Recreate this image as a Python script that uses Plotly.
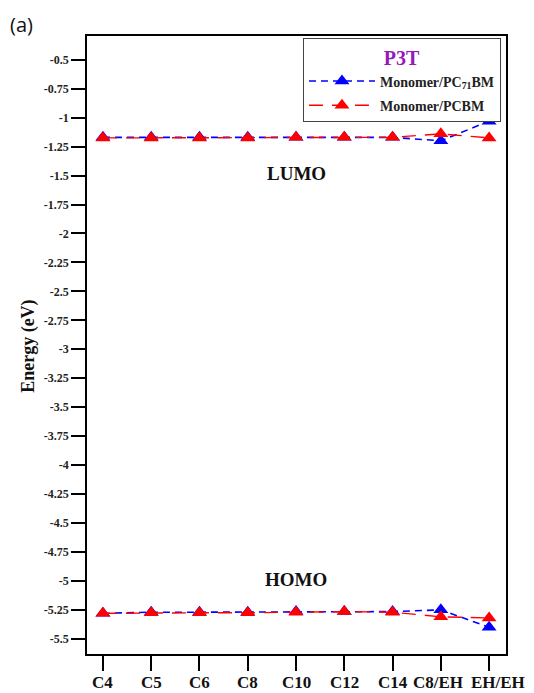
import plotly.graph_objects as go

categories = ["C4", "C5", "C6", "C8", "C10", "C12", "C14", "C8/EH", "EH/EH"]
lumo_pc71bm = [-1.17, -1.17, -1.17, -1.17, -1.17, -1.17, -1.17, -1.20, -1.03]
lumo_pcbm = [-1.175, -1.175, -1.175, -1.175, -1.17, -1.17, -1.17, -1.14, -1.175]
homo_pc71bm = [-5.28, -5.27, -5.27, -5.27, -5.265, -5.265, -5.265, -5.25, -5.40]
homo_pcbm = [-5.28, -5.275, -5.275, -5.275, -5.27, -5.265, -5.27, -5.31, -5.32]
ytick_vals = [-0.5 - 0.25 * i for i in range(21)]
ytick_text = ["%g" % v for v in ytick_vals]

serif = "Liberation Serif"
xs = list(range(len(categories)))

fig = go.Figure()
blue = dict(color="#0000ff", width=1.6, dash="7px,5px")
red = dict(color="#ff0000", width=1.4, dash="14px,9px")
mk_b = dict(symbol="triangle-up", size=13, color="#0000ff")
mk_r = dict(symbol="triangle-up", size=13, color="#ff0000")

fig.add_trace(go.Scatter(x=xs, y=lumo_pc71bm, mode="lines+markers", line=blue, marker=mk_b,
                         name="Monomer/PC<sub>71</sub>BM", legendgroup="b"))
fig.add_trace(go.Scatter(x=xs, y=homo_pc71bm, mode="lines+markers", line=blue, marker=mk_b,
                         name="Monomer/PC<sub>71</sub>BM", legendgroup="b", showlegend=False))
fig.add_trace(go.Scatter(x=xs, y=lumo_pcbm, mode="lines+markers", line=red, marker=mk_r,
                         name="Monomer/PCBM", legendgroup="r"))
fig.add_trace(go.Scatter(x=xs, y=homo_pcbm, mode="lines+markers", line=red, marker=mk_r,
                         name="Monomer/PCBM", legendgroup="r", showlegend=False))

label_font = dict(family=serif, size=17, color="#111", weight="bold")
annotations = []
for i, cat in enumerate(categories):
    shift = 0
    if cat == "C8/EH":
        shift = -3
    elif cat == "EH/EH":
        shift = 9
    annotations.append(dict(text=cat, xref="x", yref="paper", x=i, y=0, yanchor="middle",
                            yshift=-28, xshift=shift, showarrow=False, font=label_font))

annotations += [
    dict(text="Energy (eV)", textangle=-90, xref="paper", yref="paper",
         x=(29 - 87) / 419, y=0.497, xanchor="center", yanchor="middle", showarrow=False,
         font=dict(family=serif, size=18, color="#111", weight="bold")),
    dict(text="LUMO", xref="x", yref="y", x=4, y=-1.48, showarrow=False,
         font=dict(family=serif, size=19, color="#111", weight="bold")),
    dict(text="HOMO", xref="x", yref="y", x=4, y=-4.985, showarrow=False,
         font=dict(family=serif, size=19, color="#111", weight="bold")),
    dict(text="(a)", xref="paper", yref="paper", x=(8 - 87) / 419, y=(654 - 25) / 618,
         xanchor="left", yanchor="middle", showarrow=False,
         font=dict(family="Open Sans", size=20, color="#111")),
]

fig.update_layout(
    width=534, height=693,
    margin=dict(l=87, r=28, t=36, b=39),
    paper_bgcolor="white", plot_bgcolor="white",
    showlegend=True,
    legend=dict(
        x=0.988, y=0.996, xanchor="right", yanchor="top",
        bordercolor="#444", borderwidth=1, bgcolor="white",
        font=dict(family=serif, size=14, color="#222", weight="bold"),
        title=dict(text="P3T", side="top center",
                   font=dict(family=serif, size=20, color="#9419b8", weight="bold")),
        tracegroupgap=3, itemwidth=66,
    ),
    xaxis=dict(
        range=[-0.33, 8.35], tickmode="array", tickvals=xs, showticklabels=False,
        showline=True, mirror=True, linecolor="black", linewidth=1.5,
        ticks="outside", ticklen=15, tickwidth=1.5, tickcolor="black",
        showgrid=False, zeroline=False,
    ),
    yaxis=dict(
        range=[-5.631, -0.295], tickmode="array", tickvals=ytick_vals, ticktext=ytick_text,
        showline=True, mirror=True, linecolor="black", linewidth=1.5,
        ticks="outside", ticklen=14, tickwidth=1.5, tickcolor="black",
        showgrid=False, zeroline=False,
        tickfont=dict(family=serif, size=12, color="#222", weight="bold"),
    ),
    annotations=annotations,
)

fig.write_html("out.html")
